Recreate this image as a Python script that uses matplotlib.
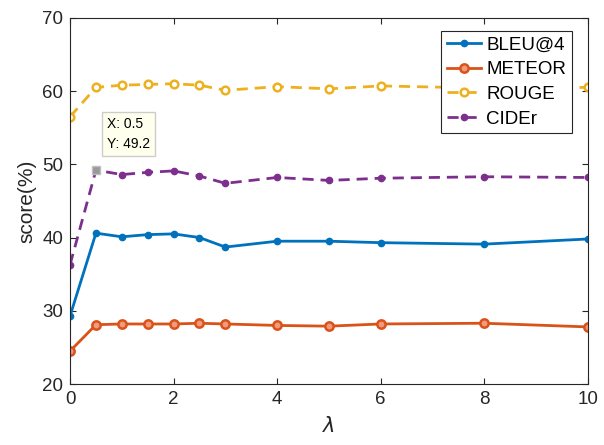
import matplotlib
matplotlib.use("Agg")
import matplotlib.pyplot as plt

plt.rcParams['font.family'] = ['Liberation Sans', 'DejaVu Sans']

# lambda values and scores (%)
lam = [0, 0.5, 1, 1.5, 2, 2.5, 3, 4, 5, 6, 8, 10]
bleu4 = [29.3, 40.6, 40.1, 40.4, 40.5, 40.0, 38.7, 39.5, 39.5, 39.3, 39.1, 39.8]
meteor = [24.5, 28.1, 28.2, 28.2, 28.2, 28.3, 28.2, 28.0, 27.9, 28.2, 28.3, 27.8]
rouge = [56.5, 60.5, 60.8, 60.9, 61.0, 60.8, 60.1, 60.6, 60.3, 60.7, 60.4, 60.5]
cider = [36.3, 49.2, 48.6, 48.9, 49.1, 48.4, 47.4, 48.2, 47.8, 48.1, 48.3, 48.2]

tip_x, tip_y = 0.5, 49.2

c_blue = (0, 0.447, 0.741)
c_orange = (0.85, 0.325, 0.098)
c_yellow = (0.929, 0.694, 0.125)
c_purple = (0.494, 0.184, 0.556)
dark = (0.15, 0.15, 0.15)

fig = plt.figure(figsize=(6.04, 4.45), dpi=100)
ax = fig.add_axes([0.116, 0.137, 0.857, 0.823])

ax.plot(lam, bleu4, '-', color=c_blue, lw=2, marker='.', ms=9, label='BLEU@4')
ax.plot(lam, meteor, '-', color=c_orange, lw=2, marker='o', ms=6,
        mfc=(0.95, 0.6, 0.5), mew=1.8, label='METEOR')
ax.plot(lam, rouge, '--', color=c_yellow, lw=2, marker='o', ms=5.5,
        mfc='white', mew=1.8, label='ROUGE', dashes=(4, 2.5))
ax.plot(lam, cider, '--', color=c_purple, lw=2, marker='.', ms=9,
        label='CIDEr', dashes=(4, 2.5))

# data tip
ax.plot([tip_x], [tip_y], 's', color=(0.6, 0.6, 0.6), ms=6, mec=(0.75, 0.75, 0.75), zorder=5)
ax.annotate('X: %g\nY: %g' % (tip_x, tip_y), xy=(tip_x, tip_y), xytext=(8, 14),
            textcoords='offset points', fontsize=10, va='bottom', ha='left',
            linespacing=1.55,
            bbox=dict(boxstyle='square,pad=0.35', fc=(1, 1, 0.93), ec=(0.8, 0.8, 0.8), lw=1))

ax.set_xlim(0, 10)
ax.set_ylim(20, 70)
ax.set_xticks([0, 2, 4, 6, 8, 10])
ax.set_yticks([20, 30, 40, 50, 60, 70])
ax.tick_params(direction='in', top=True, right=True, labelsize=13.5,
               colors=dark, length=4, width=0.8, pad=5)
for s in ax.spines.values():
    s.set_color(dark)
    s.set_linewidth(0.8)

ax.set_xlabel(r'$\lambda$', fontsize=15, color=dark, labelpad=6)
ax.set_ylabel('score(%)', fontsize=15, color=dark)

leg = ax.legend(loc='upper right', bbox_to_anchor=(0.969, 0.964), borderaxespad=0,
                fontsize=13.5, fancybox=False, edgecolor=dark, framealpha=1,
                handlelength=1.8, handletextpad=0.3, borderpad=0.3, labelspacing=0.4)
leg.get_frame().set_linewidth(0.8)

fig.savefig('out.png', dpi=100)
